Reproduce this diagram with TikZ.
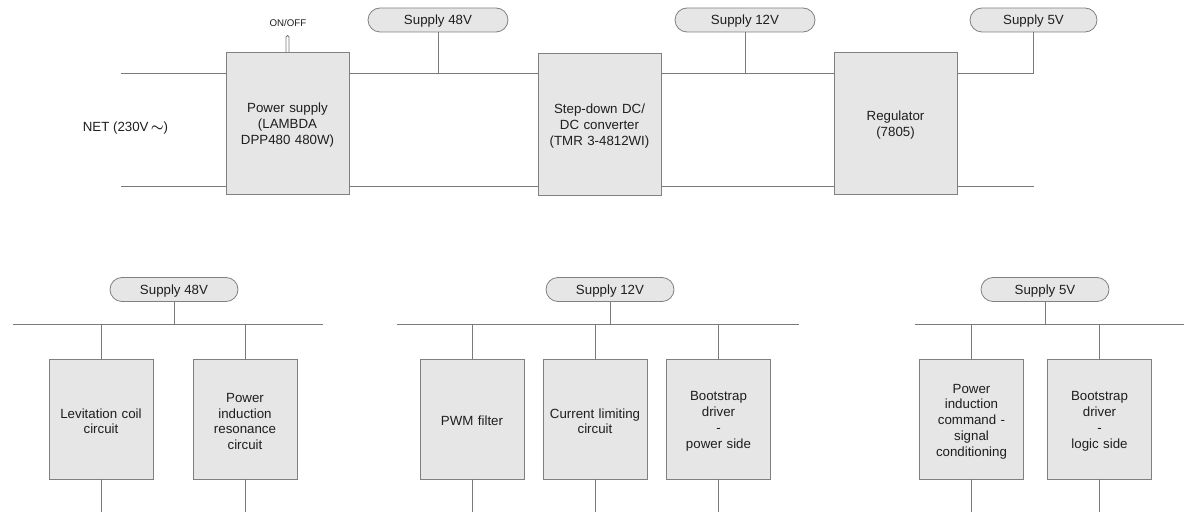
\documentclass[tikz,border=0pt]{standalone}
\usepackage{fontspec}
\setmainfont{Liberation Sans}
\definecolor{boxfill}{HTML}{E6E6E6}
\definecolor{edge}{HTML}{808080}
\definecolor{wire}{HTML}{7A7A7A}
\definecolor{ink}{HTML}{1E1E1E}
\tikzset{
  every node/.style={text=ink},
  bigbox/.style={draw=edge, line width=0.9pt, fill=boxfill, minimum width=123pt, minimum height=142pt, inner sep=2pt, align=center, font=\fontsize{13.3}{16}\selectfont, text width=118pt, execute at begin node={\rule{0pt}{14pt}}},
  smallbox/.style={draw=edge, line width=0.9pt, fill=boxfill, minimum width=104pt, minimum height=120pt, inner sep=2pt, align=center, font=\fontsize{13.3}{15.8}\selectfont, text width=100pt, execute at begin node={\rule{0pt}{14pt}}},
  pill/.style={draw=edge, line width=0.8pt, fill=boxfill, rounded corners=12pt, minimum height=24pt, inner sep=0pt, font=\fontsize{13.3}{16}\selectfont, text depth=-1pt},
  wire/.style={draw=wire, line width=0.8pt},
}
\begin{document}
\begin{tikzpicture}[x=1pt,y=-1pt]
\useasboundingbox (0,0) rectangle (1184,513);
% ---------- top chain ----------
\coordinate (topbus) at (0,73);
\coordinate (botbus) at (0,186);
\coordinate (inTop) at (121,73);
\coordinate (inBot) at (121,186);
\node[bigbox] (ps) at (287.5,123) {Power supply\\(LAMBDA\\DPP480 480W)};
\node[bigbox] (dc) at (599.5,124) {Step-down DC/\\DC converter\\(TMR 3-4812WI)};
\node[bigbox] (reg) at (895.5,123) {Regulator\\(7805)};
\node[pill, minimum width=140pt] (t48) at (438,20) {Supply 48V};
\node[pill, minimum width=140pt] (t12) at (745,20) {Supply 12V};
\node[pill, minimum width=127pt] (t5) at (1033.5,20) {Supply 5V};
\node[font=\fontsize{13.3}{16}\selectfont, text depth=-1pt] (net) at (125.5,127) {NET (230V\,{\boldmath$\sim$})};
\node[font=\fontsize{9.7}{11}\selectfont, text depth=-1pt] (onoff) at (288,23) {ON/OFF};
\draw[wire, fill=white] (286,52) -- (286,37) arc (180:360:1.5) -- (289,52);
\coordinate (end5) at (1034,186);
\draw[wire] (inTop) -- (inTop -| ps.west);
\draw[wire] (inBot) -- (inBot -| ps.west);
\draw[wire] (ps.east |- topbus) -- (dc.west |- topbus);
\draw[wire] (ps.east |- botbus) -- (dc.west |- botbus);
\draw[wire] (t48.south) -- (t48.south |- topbus);
\draw[wire] (dc.east |- topbus) -- (reg.west |- topbus);
\draw[wire] (dc.east |- botbus) -- (reg.west |- botbus);
\draw[wire] (t12.south) -- (t12.south |- topbus);
\draw[wire] (t5.south) -- (t5.south |- topbus) -- (reg.east |- topbus);
\draw[wire] (reg.east |- end5) -- (end5);
% ---------- bottom groups ----------
\coordinate (bus) at (0,324);
\coordinate (floor) at (0,512);
% 48V group
\node[pill, minimum width=128pt] (b48) at (174,289.5) {Supply 48V};
\coordinate (b48l) at (13,324);
\coordinate (b48r) at (323,324);
\node[smallbox] (lev) at (101,419) {Levitation coil\\circuit};
\node[smallbox] (res) at (245,419) {Power\\induction\\resonance\\circuit};
\draw[wire] (b48l) -- (b48r);
\draw[wire] (b48.south) -- (b48.south |- bus);
\draw[wire] (lev.north |- bus) -- (lev.north);
\draw[wire] (res.north |- bus) -- (res.north);
\draw[wire] (lev.south) -- (lev.south |- floor);
\draw[wire] (res.south) -- (res.south |- floor);
% 12V group
\node[pill, minimum width=128pt] (b12) at (610,289.5) {Supply 12V};
\coordinate (b12l) at (397,324);
\coordinate (b12r) at (799,324);
\node[smallbox] (pwm) at (472,419) {PWM filter};
\node[smallbox] (cur) at (595,419) {Current limiting\\circuit};
\node[smallbox] (bsp) at (718.5,419) {Bootstrap\\driver\\-\\power side};
\draw[wire] (b12l) -- (b12r);
\draw[wire] (b12.south) -- (b12.south |- bus);
\foreach \n in {pwm,cur,bsp}{
  \draw[wire] (\n.north |- bus) -- (\n.north);
  \draw[wire] (\n.south) -- (\n.south |- floor);
}
% 5V group
\node[pill, minimum width=128pt] (b5) at (1045,289.5) {Supply 5V};
\coordinate (b5l) at (915,324);
\coordinate (b5r) at (1184,324);
\node[smallbox] (cmd) at (971.5,419) {Power\\induction\\command -\\signal\\conditioning};
\node[smallbox] (bsl) at (1099.5,419) {Bootstrap\\driver\\-\\logic side};
\draw[wire] (b5l) -- (b5r);
\draw[wire] (b5.south) -- (b5.south |- bus);
\foreach \n in {cmd,bsl}{
  \draw[wire] (\n.north |- bus) -- (\n.north);
  \draw[wire] (\n.south) -- (\n.south |- floor);
}
\end{tikzpicture}
\end{document}
